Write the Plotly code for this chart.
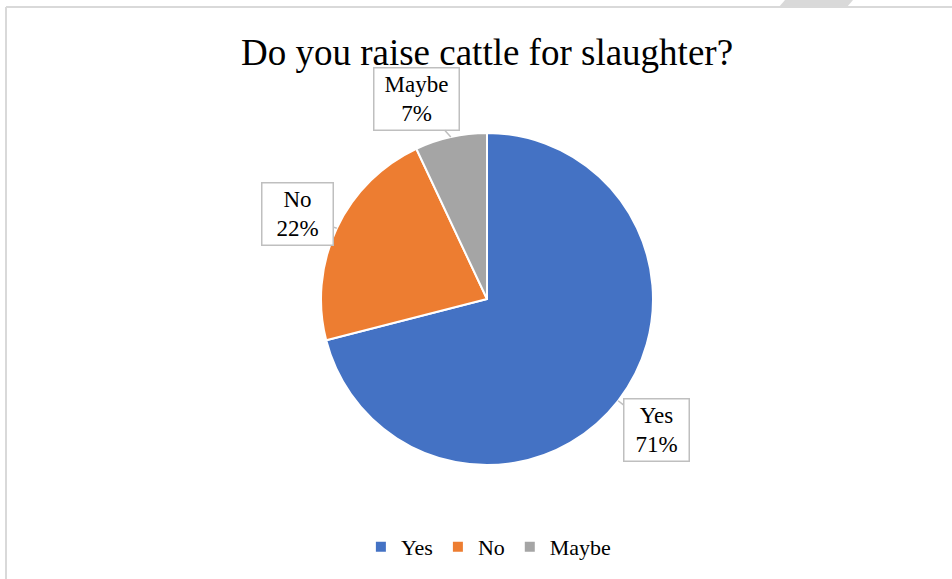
import math
import plotly.graph_objects as go

labels = ["Yes", "No", "Maybe"]
values = [71, 22, 7]
colors = ["#4472C4", "#ED7D31", "#A5A5A5"]
title_text = "Do you raise cattle for slaughter?"

W, H = 952, 579
cx, cy, R = 487, 299, 166  # pie center / radius in pixels
FONT = "Liberation Serif, Times New Roman, serif"

fig = go.Figure(go.Pie(
    labels=labels, values=values, sort=False, direction="clockwise", rotation=0,
    marker=dict(colors=colors, line=dict(color="white", width=2)),
    textinfo="none", hoverinfo="label+percent",
    domain=dict(x=[(cx - R) / W, (cx + R) / W], y=[1 - (cy + R) / H, 1 - (cy - R) / H]),
))

# callout labels placed along each slice's mid angle
total = sum(values)
label_r = [1.29, 1.25, 1.277]
angle_off = [0.0, -1.0, -6.7]  # degrees
box_w = [58, 64, 78]
cum = 0
annotations = []
for i, (lab, v) in enumerate(zip(labels, values)):
    mid = (cum + v / 2) / total * 2 * math.pi
    cum += v
    sx, sy = math.sin(mid), math.cos(mid)
    tipx, tipy = cx + R * sx, cy - R * sy
    a = mid + math.radians(angle_off[i])
    bx, by = cx + R * label_r[i] * math.sin(a), cy - R * label_r[i] * math.cos(a)
    annotations.append(dict(
        x=tipx / W, y=1 - tipy / H, xref="paper", yref="paper",
        ax=bx - tipx, ay=by - tipy, axref="pixel", ayref="pixel",
        text=f"{lab}<br>{round(v / total * 100)}%",
        showarrow=True, arrowhead=0, arrowwidth=1.5, arrowcolor="#BFBFBF",
        font=dict(family=FONT, size=23, color="#000000"),
        bgcolor="white", bordercolor="#BFBFBF", borderwidth=1.5, borderpad=3,
        width=box_w[i], align="center",
    ))

shapes = [
    dict(type="line", xref="paper", yref="paper", x0=6 / W, x1=1, y0=1 - 7 / H, y1=1 - 7 / H,
         line=dict(color="#D9D9D9", width=2)),
    dict(type="line", xref="paper", yref="paper", x0=6 / W, x1=6 / W, y0=0, y1=1 - 7 / H,
         line=dict(color="#D9D9D9", width=2)),
    dict(type="path", xref="paper", yref="paper",
         path=f"M {779 / W} {1 - 7 / H} L {847 / W} {1 - 7 / H} L {853 / W} 1 L {785 / W} 1 Z",
         fillcolor="#D9D9D9", line=dict(width=0)),
]

fig.update_layout(
    width=W, height=H,
    margin=dict(l=0, r=0, t=0, b=0),
    paper_bgcolor="white", plot_bgcolor="white",
    title=dict(text=title_text, x=487 / W, xanchor="center", y=1 - 52 / H, yanchor="middle",
               font=dict(family=FONT, size=37, color="#000000")),
    showlegend=True,
    legend=dict(orientation="h", x=0.513, xanchor="center", y=1 - 547 / H, yanchor="middle",
                font=dict(family=FONT, size=22, color="#000000"), itemwidth=30),
    annotations=annotations,
    shapes=shapes,
)

fig.write_html("out.html", config={"displayModeBar": False},
               post_script="document.body.style.margin='0';document.body.style.overflow='hidden';")
